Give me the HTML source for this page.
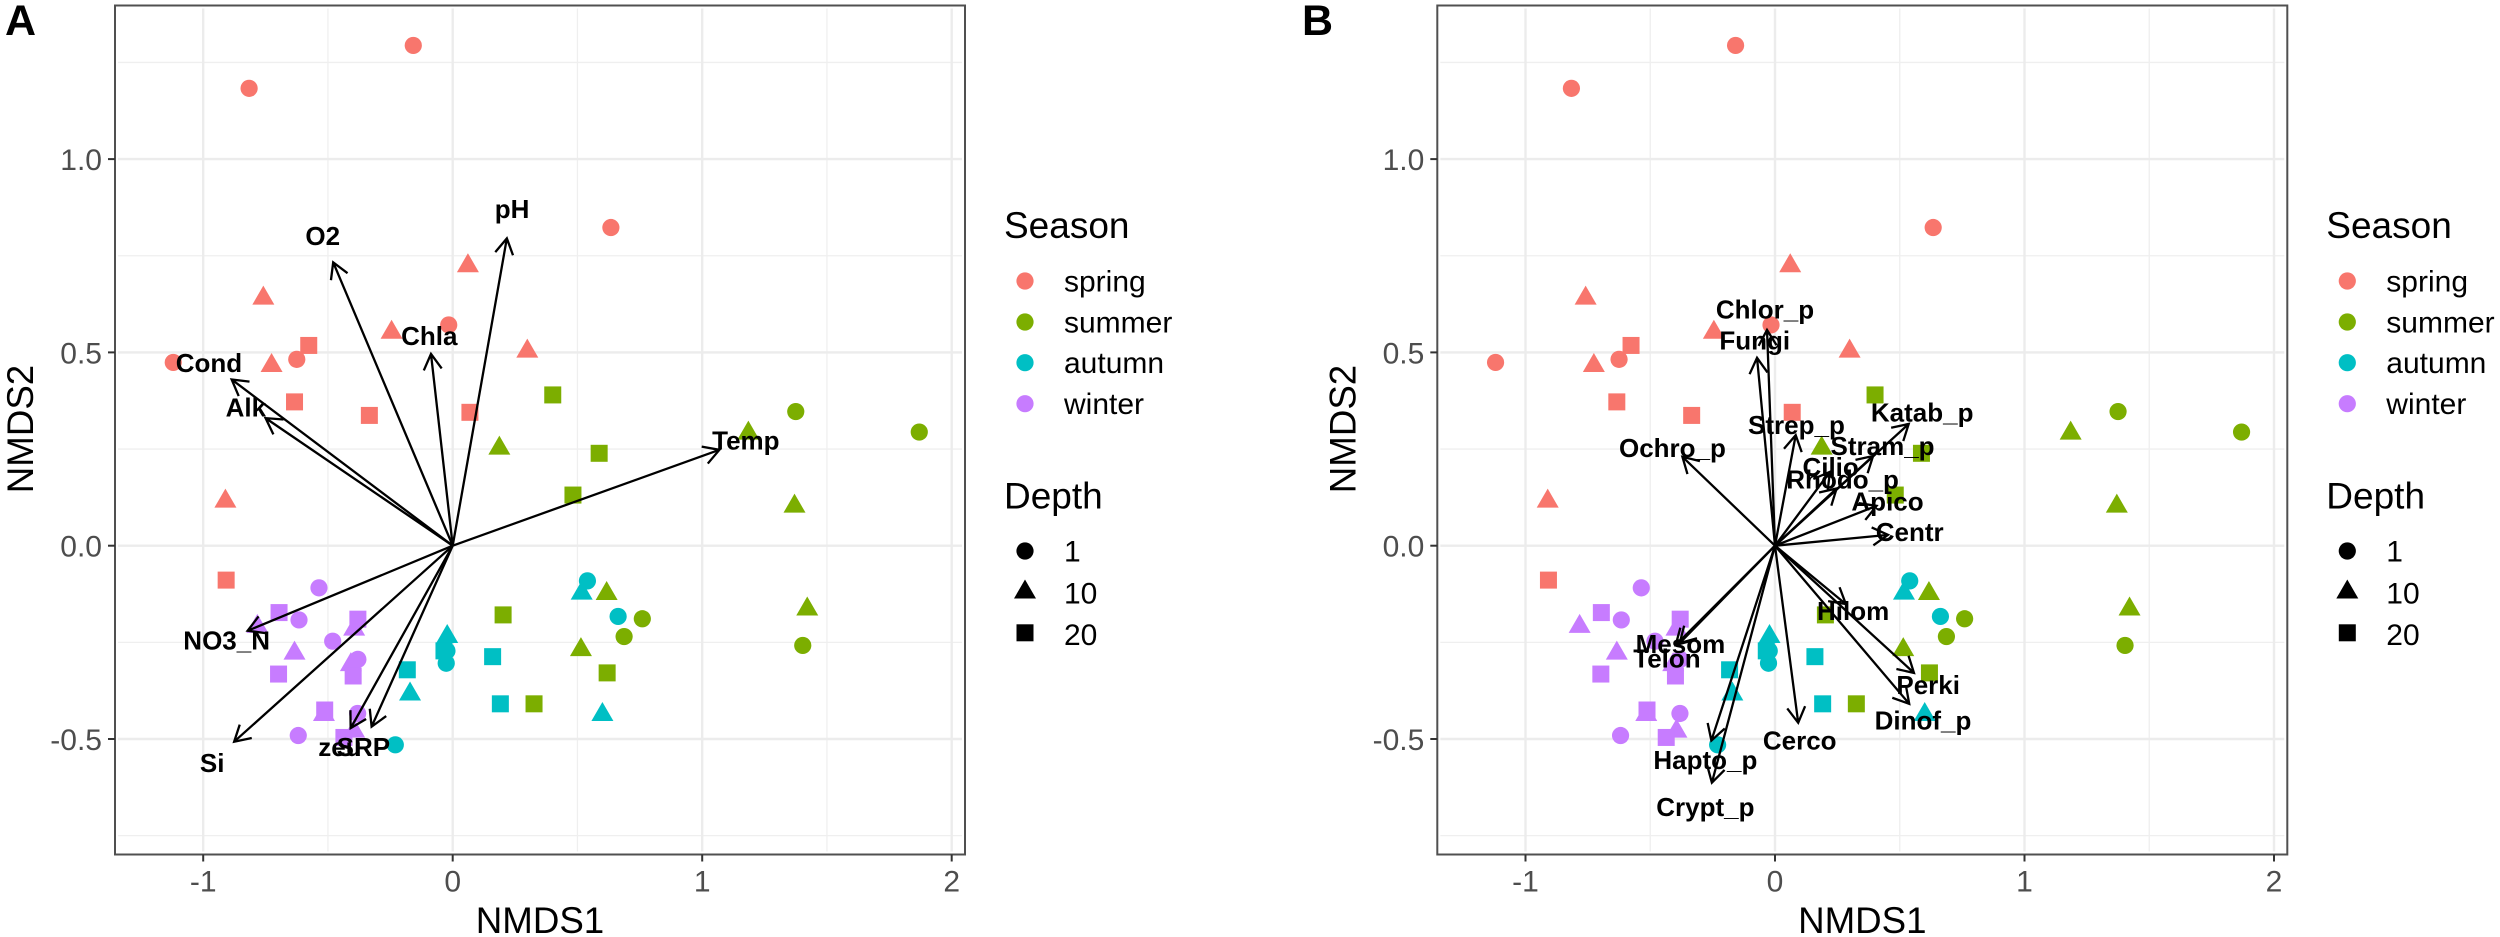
<!DOCTYPE html>
<html>
<head>
<meta charset="utf-8">
<title>NMDS ordination</title>
<style>
html,body{margin:0;padding:0;background:#fff;}
svg{display:block;}
text{font-family:"Liberation Sans",sans-serif;}
.leg-title{font-size:37px;fill:#000;}
.leg-label{font-size:30px;fill:#000;}
</style>
</head>
<body>
<svg id="chart" xmlns="http://www.w3.org/2000/svg" width="2500" height="937" viewBox="0 0 2500 937">
<rect width="2500" height="937" fill="#fff"/>
<g id="panelA"></g>
<g id="panelB"></g>
<text x="5" y="35" font-size="43" font-weight="bold">A</text>
<text x="1302" y="35" font-size="43" font-weight="bold">B</text>

<g>
  <text class="leg-title" x="1004" y="238">Season</text>
  <circle cx="1025" cy="281" r="8.6" fill="#F8766D"/>
  <text class="leg-label" x="1064" y="291.5">spring</text>
  <circle cx="1025" cy="322" r="8.6" fill="#7CAE00"/>
  <text class="leg-label" x="1064" y="332.5">summer</text>
  <circle cx="1025" cy="362.7" r="8.6" fill="#00BFC4"/>
  <text class="leg-label" x="1064" y="373.2">autumn</text>
  <circle cx="1025" cy="403.7" r="8.6" fill="#C77CFF"/>
  <text class="leg-label" x="1064" y="414.2">winter</text>
  <text class="leg-title" x="1004" y="508.3">Depth</text>
  <circle cx="1025" cy="551" r="8.6" fill="#000"/>
  <text class="leg-label" x="1064" y="561.7">1</text>
  <polygon points="1014,598.5 1036,598.5 1025,579.5" fill="#000"/>
  <text class="leg-label" x="1064" y="603.3">10</text>
  <rect x="1016.5" y="624.3" width="17" height="17" fill="#000"/>
  <text class="leg-label" x="1064" y="645">20</text>
</g>

<g transform="translate(1322.3,0)">
  <text class="leg-title" x="1004" y="238">Season</text>
  <circle cx="1025" cy="281" r="8.6" fill="#F8766D"/>
  <text class="leg-label" x="1064" y="291.5">spring</text>
  <circle cx="1025" cy="322" r="8.6" fill="#7CAE00"/>
  <text class="leg-label" x="1064" y="332.5">summer</text>
  <circle cx="1025" cy="362.7" r="8.6" fill="#00BFC4"/>
  <text class="leg-label" x="1064" y="373.2">autumn</text>
  <circle cx="1025" cy="403.7" r="8.6" fill="#C77CFF"/>
  <text class="leg-label" x="1064" y="414.2">winter</text>
  <text class="leg-title" x="1004" y="508.3">Depth</text>
  <circle cx="1025" cy="551" r="8.6" fill="#000"/>
  <text class="leg-label" x="1064" y="561.7">1</text>
  <polygon points="1014,598.5 1036,598.5 1025,579.5" fill="#000"/>
  <text class="leg-label" x="1064" y="603.3">10</text>
  <rect x="1016.5" y="624.3" width="17" height="17" fill="#000"/>
  <text class="leg-label" x="1064" y="645">20</text>
</g>
</svg>

<script>
// ---- axis values ----
const xMajorTicks = [-1, 0, 1, 2];
const xTickLabels = ['-1', '0', '1', '2'];
const xMinorTicks = [-0.5, 0.5, 1.5];
const yMajorTicks = [-0.5, 0, 0.5, 1];
const yTickLabels = ['-0.5', '0.0', '0.5', '1.0'];
const yMinorTicks = [-0.75, -0.25, 0.25, 0.75, 1.25];

// ---- site scores (same in both panels) ----
const seasonNames = ['spring', 'summer', 'autumn', 'winter'];
const depthNames = ['1', '10', '20'];
const siteSeason = [
  0,0,0,0,0,0, 0,0,0,0,0,0, 0,0,0,0,0,
  1,1,1,1,1,1, 1,1,1,1,1,1, 1,1,1,1,1,
  2,2,2,2,2, 2,2,2,2, 2,2,2,2,
  3,3,3,3,3,3, 3,3,3,3,3,3, 3,3,3,3,3,3
];
const siteDepth = [
  0,0,0,0,0,0, 1,1,1,1,1,1, 2,2,2,2,2,
  2,2,2,2,2,2, 1,1,1,1,1,1, 0,0,0,0,0,
  0,0,0,0,0, 1,1,1,1, 2,2,2,2,
  0,0,0,0,0,0, 1,1,1,1,1,1, 2,2,2,2,2,2
];
const nmds1 = [
  -0.816,-0.158,0.634,-1.120,-0.625,-0.016, -0.759,0.061,-0.245,-0.726,0.299,-0.911, -0.577,-0.634,-0.334,0.069,-0.908,
  0.401,0.587,0.482,0.202,0.326,0.619, 0.187,1.185,1.370,0.617,0.514,1.421, 1.375,1.870,0.760,0.687,1.403,
  0.540,0.663,-0.026,-0.023,-0.230, 0.517,0.600,-0.022,-0.171, -0.035,0.160,-0.182,0.191,
  -0.536,-0.616,-0.481,-0.380,-0.381,-0.619, -0.783,-0.634,-0.395,-0.408,-0.516,-0.395, -0.696,-0.380,-0.698,-0.399,-0.513,-0.436
];
const nmds2 = [
  1.183,1.294,0.823,0.474,0.482,0.571, 0.648,0.732,0.560,0.474,0.511,0.123, 0.518,0.372,0.337,0.345,-0.089,
  0.390,0.239,0.131,-0.179,-0.409,-0.329, 0.260,0.299,0.110,-0.116,-0.261,-0.156, 0.347,0.294,-0.189,-0.235,-0.258,
  -0.091,-0.183,-0.304,-0.272,-0.515, -0.115,-0.429,-0.227,-0.376, -0.272,-0.287,-0.321,-0.409,
  -0.109,-0.192,-0.247,-0.294,-0.434,-0.491, -0.201,-0.270,-0.208,-0.300,-0.429,-0.472, -0.173,-0.190,-0.332,-0.337,-0.425,-0.496
];

// ---- panel A vectors ----
const envNames = ['pH','O2','Chla','Cond','Alk','Temp','NO3_N','Si','zeu','SRP'];
const envX = [0.217,-0.479,-0.087,-0.886,-0.750,1.069,-0.822,-0.876,-0.409,-0.325];
const envY = [0.795,0.733,0.496,0.430,0.330,0.248,-0.220,-0.507,-0.472,-0.468];
const envLabelX = [0.238,-0.521,-0.094,-0.977,-0.829,1.175,-0.906,-0.964,-0.452,-0.358];
const envLabelY = [0.847,0.778,0.519,0.449,0.334,0.249,-0.268,-0.585,-0.544,-0.544];

// ---- panel B vectors ----
const taxaNames = ['Chlor_p','Fungi','Ochro_p','Strep_p','Katab_p','Stram_p','Cilio','Rhodo_p','Apico','Centr','Hilom','Perki','Dinof_p','Cerco','Hapto_p','Crypt_p','Mesom','Telon'];
const taxaX = [-0.032,-0.072,-0.371,0.083,0.536,0.393,0.220,0.247,0.407,0.453,0.284,0.557,0.538,0.093,-0.255,-0.253,-0.382,-0.398];
const taxaY = [0.558,0.486,0.230,0.286,0.315,0.232,0.191,0.148,0.103,0.028,-0.151,-0.329,-0.409,-0.458,-0.504,-0.613,-0.252,-0.257];
const taxaLabelX = [-0.040,-0.081,-0.411,0.086,0.590,0.431,0.223,0.271,0.451,0.540,0.313,0.614,0.593,0.099,-0.279,-0.279,-0.379,-0.433];
const taxaLabelY = [0.588,0.508,0.229,0.289,0.321,0.235,0.180,0.148,0.091,0.012,-0.192,-0.384,-0.475,-0.527,-0.578,-0.699,-0.278,-0.315];

const seasonColors = ['#F8766D', '#7CAE00', '#00BFC4', '#C77CFF'];
const NS = 'http://www.w3.org/2000/svg';

function make(parent, tag, attrs, txt) {
  const el = document.createElementNS(NS, tag);
  for (const k in attrs) el.setAttribute(k, attrs[k]);
  if (txt !== undefined) el.textContent = txt;
  parent.appendChild(el);
  return el;
}

function drawPanel(root, offset, names, vx, vy, lx, ly) {
  const panelLeft = 115 + offset, panelRight = 965 + offset, panelTop = 5.5, panelBottom = 854.5;
  const sx = v => 452.7 + offset + v * 249.5;
  const sy = v => 545.7 - v * 386.6;

  // grid
  xMinorTicks.forEach(v => {
    const el = make(root, 'line', {x1: sx(v), x2: sx(v), y1: panelTop + 3, y2: panelBottom - 3, stroke: '#efefef', 'stroke-width': 1.3});
    
    
  });
  yMinorTicks.forEach(v => {
    const el = make(root, 'line', {x1: panelLeft + 3, x2: panelRight - 3, y1: sy(v), y2: sy(v), stroke: '#efefef', 'stroke-width': 1.3});
    
    
  });
  xMajorTicks.forEach(v => {
    const el = make(root, 'line', {x1: sx(v), x2: sx(v), y1: panelTop + 3, y2: panelBottom - 3, stroke: '#ececec', 'stroke-width': 2.4});
    
    
  });
  yMajorTicks.forEach(v => {
    const el = make(root, 'line', {x1: panelLeft + 3, x2: panelRight - 3, y1: sy(v), y2: sy(v), stroke: '#ececec', 'stroke-width': 2.4});
    
    
  });

  // points
  nmds1.forEach((v, i) => {
    const cx = sx(v), cy = sy(nmds2[i]), fill = seasonColors[siteSeason[i]], d = siteDepth[i];
    let el;
    if (d === 0) {
      el = make(root, 'circle', {cx: cx, cy: cy, r: 8.6, fill: fill});
    } else if (d === 1) {
      el = make(root, 'polygon', {points: (cx - 11) + ',' + (cy + 9.5) + ' ' + (cx + 11) + ',' + (cy + 9.5) + ' ' + cx + ',' + (cy - 9.5), fill: fill});
    } else {
      el = make(root, 'rect', {x: cx - 8.5, y: cy - 8.5, width: 17, height: 17, fill: fill});
    }
    
    
  });

  // arrows
  const ox = sx(0), oy = sy(0);
  names.forEach((n, i) => {
    const tx = sx(vx[i]), ty = sy(vy[i]);
    const ang = Math.atan2(ty - oy, tx - ox), w = 18, spread = Math.PI / 6;
    const x1 = tx - w * Math.cos(ang - spread), y1 = ty - w * Math.sin(ang - spread);
    const x2 = tx - w * Math.cos(ang + spread), y2 = ty - w * Math.sin(ang + spread);
    const el = make(root, 'path', {
      d: 'M' + ox + ' ' + oy + 'L' + tx + ' ' + ty + 'M' + x1 + ' ' + y1 + 'L' + tx + ' ' + ty + 'L' + x2 + ' ' + y2,
      fill: 'none', stroke: '#000', 'stroke-width': 2.3
    });
    
    
  });

  // vector labels
  names.forEach((n, i) => {
    const el = make(root, 'text', {x: sx(lx[i]), y: sy(ly[i]), 'text-anchor': 'middle', 'font-size': 26, 'font-weight': 'bold', fill: '#000'}, n);
    
    
  });

  // border
  const border = make(root, 'rect', {x: panelLeft, y: panelTop, width: panelRight - panelLeft, height: panelBottom - panelTop, fill: 'none', stroke: '#505050', 'stroke-width': 2});
  
  

  // ticks
  xMajorTicks.forEach((v, i) => {
    const t = make(root, 'line', {x1: sx(v), x2: sx(v), y1: panelBottom, y2: panelBottom + 7, stroke: '#333', 'stroke-width': 2});
    
    
    const el = make(root, 'text', {x: sx(v), y: 891.7, 'text-anchor': 'middle', 'font-size': 30, fill: '#4d4d4d'}, xTickLabels[i]);
    
    
  });
  yMajorTicks.forEach((v, i) => {
    const t = make(root, 'line', {x1: panelLeft - 7, x2: panelLeft, y1: sy(v), y2: sy(v), stroke: '#333', 'stroke-width': 2});
    
    
    const el = make(root, 'text', {x: panelLeft - 13, y: sy(v) + 11, 'text-anchor': 'end', 'font-size': 30, fill: '#4d4d4d'}, yTickLabels[i]);
    
    
  });

  // axis titles
  const xt = make(root, 'text', {x: 540 + offset, y: 933, 'text-anchor': 'middle', 'font-size': 36.7, fill: '#000'}, 'NMDS1');
  
  
  const yt = make(root, 'text', {x: 0, y: 0, transform: 'translate(' + (33 + offset) + ',429) rotate(-90)', 'text-anchor': 'middle', 'font-size': 36.7, fill: '#000'}, 'NMDS2');
  
  
}

drawPanel(document.getElementById('panelA'), 0, envNames, envX, envY, envLabelX, envLabelY);
drawPanel(document.getElementById('panelB'), 1322.3, taxaNames, taxaX, taxaY, taxaLabelX, taxaLabelY);
</script>
</body>
</html>
